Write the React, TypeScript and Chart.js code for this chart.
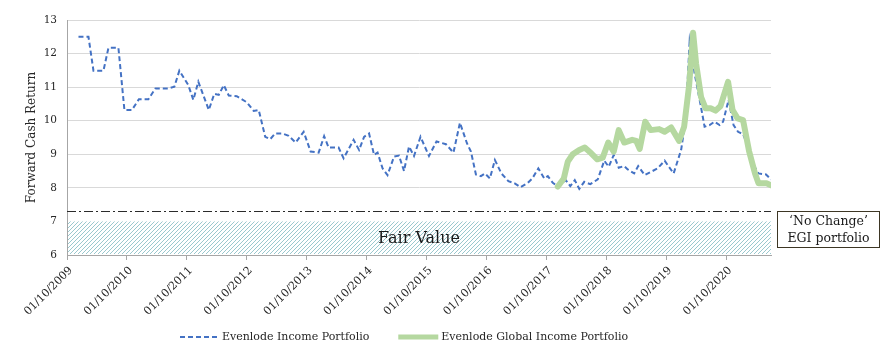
import React, { useEffect, useRef } from 'react';
import { Chart, registerables } from 'chart.js';

Chart.register(...registerables);

// ---- Data (x = months since 01/10/2009) ----
const START_YEAR = 2009;
const X_MIN = 0;
const X_MAX = 141;
const Y_MIN = 6;
const Y_MAX = 13;
const FAIR_LOW = 6;
const FAIR_HIGH = 7;
const NO_CHANGE = 7.3;

const incomeMonths = [
  2.3, 4.3, 5.3, 7.3, 8.3, 10.3, 11.5, 13.0, 14.4, 16.3, 17.7, 20.3, 21.5, 22.5, 24.3, 25.3, 26.3, 28.4, 29.5, 30.4,
  31.4, 32.4, 34.0, 36.0, 37.4, 38.4, 39.7, 40.7, 41.7, 43.1, 44.4, 45.8, 47.4, 48.8, 50.4, 51.5, 52.4, 54.4, 55.4, 57.4,
  58.5, 59.5, 60.5, 61.5, 62.2, 63.2, 64.2, 65.5, 66.5, 67.5, 68.5, 69.5, 70.8, 72.5, 74.0, 75.9, 77.4, 78.7, 80.1, 80.9,
  81.9, 82.9, 83.7, 84.7, 85.7, 87.0, 88.4, 89.6, 90.8, 92.3, 93.2, 94.4, 95.6, 96.3, 97.3, 98.3, 99.9, 100.8, 101.7, 102.6,
  103.6, 104.8, 106.3, 107.6, 108.5, 109.5, 110.5, 111.6, 112.3, 113.6, 114.4, 115.7, 117.0, 118.3, 119.7, 120.3, 121.5, 123.0, 123.9, 124.7,
  125.7, 126.9, 127.7, 128.7, 129.7, 130.7, 131.4, 132.5, 133.5, 134.4, 135.4, 136.4, 137.7, 138.5, 140.0, 141.0,
];
const incomeValues = [
  12.5, 12.5, 11.49, 11.49, 12.17, 12.17, 10.32, 10.32, 10.64, 10.64, 10.96, 10.96, 11.01, 11.49, 11.06, 10.62, 11.16, 10.32, 10.8, 10.77,
  11.06, 10.75, 10.73, 10.55, 10.29, 10.32, 9.52, 9.45, 9.62, 9.62, 9.55, 9.35, 9.67, 9.08, 9.05, 9.54, 9.2, 9.2, 8.88, 9.43,
  9.13, 9.52, 9.62, 8.98, 9.05, 8.58, 8.38, 8.93, 8.96, 8.5, 9.23, 8.95, 9.52, 8.95, 9.38, 9.3, 9.05, 9.94, 9.33, 9.08,
  8.4, 8.35, 8.43, 8.28, 8.83, 8.43, 8.2, 8.14, 8.02, 8.15, 8.28, 8.58, 8.28, 8.35, 8.15, 8.04, 8.23, 8.05, 8.23, 7.97,
  8.18, 8.11, 8.25, 8.81, 8.63, 8.98, 8.6, 8.65, 8.55, 8.43, 8.65, 8.38, 8.48, 8.58, 8.81, 8.68, 8.43, 9.13, 10.02, 12.35,
  11.41, 10.47, 9.82, 9.87, 9.97, 9.87, 9.97, 10.62, 9.87, 9.67, 9.6, 9.23, 8.63, 8.43, 8.4, 8.25,
];

const globalMonths = [
  98.3, 99.5, 100.3, 101.3, 102.6, 103.7, 105.0, 106.2, 107.3, 108.4, 109.5, 110.5, 111.6, 113.2, 114.0, 114.7, 115.8, 116.9, 118.6, 119.7,
  121.0, 122.6, 123.6, 124.6, 125.4, 126.0, 127.0, 127.9, 128.9, 129.9, 130.9, 132.4, 133.3, 134.3, 135.4, 136.6, 137.8, 138.5, 140.1, 141.0,
];
const globalValues = [
  8.04, 8.28, 8.78, 9.0, 9.13, 9.2, 9.03, 8.85, 8.9, 9.35, 9.08, 9.72, 9.35, 9.43, 9.4, 9.16, 9.97, 9.72, 9.75, 9.67,
  9.8, 9.4, 9.82, 11.05, 12.62, 11.7, 10.7, 10.37, 10.37, 10.3, 10.44, 11.16, 10.32, 10.07, 10.02, 9.1, 8.43, 8.14, 8.14, 8.08,
];

const seriesLabels = ['Evenlode Income Portfolio', 'Evenlode Global Income Portfolio'];
const noChangeLines = ['\u2018No Change\u2019', 'EGI portfolio'];
const fairValueText = 'Fair Value';
const yTitle = 'Forward Cash Return';

// ---- Styles ----
const FONT = '"DejaVu Serif", serif';
const TEXT = '#262626';
const BLUE = '#4472C4';
const GREEN = '#B5D8A0';
const AXIS = '#A6A6A6';
const GRID = '#D9D9D9';

function makeHatch(): CanvasPattern | string {
  const s = 4;
  const c = document.createElement('canvas');
  c.width = s;
  c.height = s;
  const g = c.getContext('2d');
  if (!g) return '#d6e8ea';
  g.fillStyle = '#ffffff';
  g.fillRect(0, 0, s, s);
  g.strokeStyle = '#6EB0B9';
  g.lineWidth = 0.7;
  g.beginPath();
  g.moveTo(0, s);
  g.lineTo(s, 0);
  g.moveTo(-1, 1);
  g.lineTo(1, -1);
  g.moveTo(s - 1, s + 1);
  g.lineTo(s + 1, s - 1);
  g.stroke();
  const p = g.createPattern(c, 'repeat');
  return p || '#d6e8ea';
}

const overlayPlugin = {
  id: 'overlay',
  beforeDatasetsDraw(chart: any) {
    const { ctx, chartArea, scales } = chart;
    const y = scales.y;
    const top = y.getPixelForValue(FAIR_HIGH);
    const bottom = y.getPixelForValue(FAIR_LOW);
    ctx.save();
    ctx.fillStyle = makeHatch();
    ctx.fillRect(chartArea.left + 1, top, chartArea.right - chartArea.left - 1, bottom - top - 1);
    ctx.fillStyle = '#1a1a1a';
    ctx.font = `16px ${FONT}`;
    ctx.textAlign = 'center';
    ctx.textBaseline = 'middle';
    ctx.fillText(fairValueText, (chartArea.left + chartArea.right) / 2, y.getPixelForValue((FAIR_LOW + FAIR_HIGH) / 2) + 1);
    // dash-dot "no change" line
    const ny = Math.round(y.getPixelForValue(NO_CHANGE)) + 0.5;
    ctx.strokeStyle = '#2b2b2b';
    ctx.lineWidth = 1;
    ctx.setLineDash([9, 3, 2, 3]);
    ctx.beginPath();
    ctx.moveTo(chartArea.left, ny);
    ctx.lineTo(chartArea.right, ny);
    ctx.stroke();
    ctx.restore();
  },
  afterDraw(chart: any) {
    const { ctx, chartArea, scales } = chart;
    const y = scales.y;
    ctx.save();
    // annotation box
    const bx = Math.round(chartArea.right) + 6.5;
    const by = Math.round(y.getPixelForValue(NO_CHANGE)) + 0.5;
    const bw = 102;
    const bh = 36;
    ctx.fillStyle = '#ffffff';
    ctx.fillRect(bx, by, bw, bh);
    ctx.strokeStyle = '#3d3624';
    ctx.lineWidth = 1;
    ctx.strokeRect(bx, by, bw, bh);
    ctx.fillStyle = '#1a1a1a';
    ctx.font = `12.5px ${FONT}`;
    ctx.textAlign = 'center';
    ctx.textBaseline = 'middle';
    ctx.fillText(noChangeLines[0], bx + bw / 2, by + 10);
    ctx.fillText(noChangeLines[1], bx + bw / 2, by + 27);

    // legend
    const ly = 337;
    ctx.font = `11px ${FONT}`;
    ctx.textAlign = 'left';
    ctx.fillStyle = TEXT;
    let x = 180;
    ctx.strokeStyle = BLUE;
    ctx.lineWidth = 2;
    ctx.setLineDash([5, 3]);
    ctx.beginPath();
    ctx.moveTo(x, ly);
    ctx.lineTo(x + 38, ly);
    ctx.stroke();
    ctx.setLineDash([]);
    ctx.fillText(seriesLabels[0], x + 42, ly);
    x = x + 42 + ctx.measureText(seriesLabels[0]).width + 29;
    ctx.strokeStyle = GREEN;
    ctx.lineWidth = 5;
    ctx.beginPath();
    ctx.moveTo(x, ly);
    ctx.lineTo(x + 40, ly);
    ctx.stroke();
    ctx.fillText(seriesLabels[1], x + 43, ly);
    ctx.restore();
  },
};

export default function App() {
  const ref = useRef<HTMLCanvasElement | null>(null);

  useEffect(() => {
    if (!ref.current) return;
    const chart = new Chart(ref.current, {
      type: 'line',
      data: {
        datasets: [
          {
            label: seriesLabels[0],
            data: incomeMonths.map((m, i) => ({ x: m, y: incomeValues[i] })),
            borderColor: BLUE,
            backgroundColor: BLUE,
            borderWidth: 2,
            borderDash: [5, 3],
            pointRadius: 0,
            tension: 0,
            fill: false,
            order: 2,
          },
          {
            label: seriesLabels[1],
            data: globalMonths.map((m, i) => ({ x: m, y: globalValues[i] })),
            borderColor: GREEN,
            backgroundColor: GREEN,
            borderWidth: 6,
            pointRadius: 0,
            tension: 0,
            fill: false,
            borderJoinStyle: 'round',
            borderCapStyle: 'round',
            order: 1,
          },
        ],
      } as any,
      options: {
        animation: false,
        responsive: false,
        maintainAspectRatio: false,
        events: [],
        layout: { padding: { left: 0, right: 120, top: 20, bottom: 0 } },
        plugins: { legend: { display: false }, tooltip: { enabled: false } },
        scales: {
          x: {
            type: 'linear',
            min: X_MIN,
            max: X_MAX,
            afterBuildTicks: (s: any) => {
              s.ticks = s.ticks.filter((t: any) => t.value % 12 === 0);
            },
            afterFit: (s: any) => {
              s.height = 96;
            },
            ticks: {
              stepSize: 12,
              autoSkip: false,
              maxRotation: 45,
              minRotation: 45,
              padding: 4,
              labelOffset: 4,
              color: TEXT,
              font: { family: FONT, size: 11 },
              callback: (v: any) => '01/10/' + (START_YEAR + Math.round(Number(v) / 12)),
            },
            grid: { drawOnChartArea: false, drawTicks: true, tickLength: 5, color: AXIS },
            border: { display: true, color: AXIS },
          },
          y: {
            min: Y_MIN,
            max: Y_MAX,
            afterFit: (s: any) => {
              s.width = 67;
            },
            ticks: { stepSize: 1, padding: 10, color: TEXT, font: { family: FONT, size: 10.5 } },
            grid: {
              drawTicks: false,
              color: (c: any) => (c.tick && c.tick.value === FAIR_HIGH ? 'rgba(0,0,0,0)' : GRID),
            },
            border: { display: true, color: AXIS },
            title: {
              display: true,
              text: yTitle,
              color: TEXT,
              font: { family: FONT, size: 12 },
              padding: { top: 25, bottom: 0 },
            },
          },
        },
      } as any,
      plugins: [overlayPlugin],
    });
    return () => chart.destroy();
  }, []);

  return (
    <div style={{ position: 'fixed', left: 0, top: 0, width: 891, height: 351, background: '#fff' }}>
      <canvas ref={ref} width={891} height={351} style={{ width: 891, height: 351, display: 'block' }} />
    </div>
  );
}
